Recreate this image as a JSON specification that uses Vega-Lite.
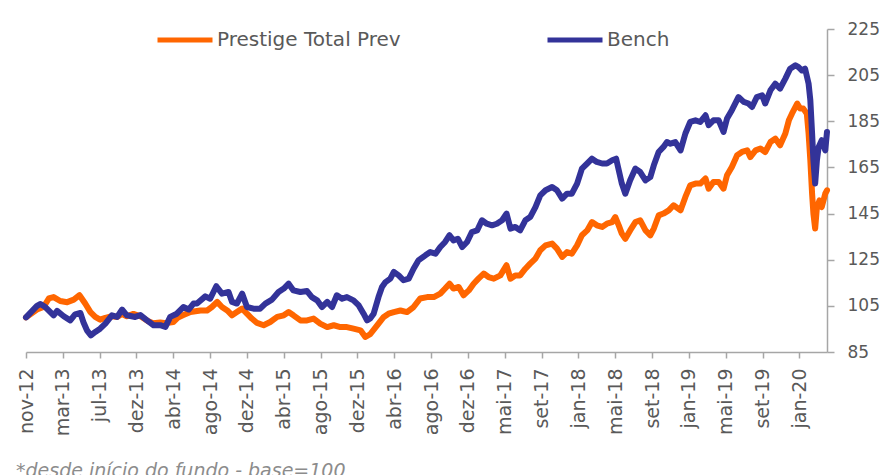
{
  "$schema": "https://vega.github.io/schema/vega-lite/v6.json",
  "width": 801,
  "height": 323,
  "autosize": {"type": "none"},
  "padding": {"left": 26, "top": 29, "right": 62, "bottom": 123},
  "background": "white",
  "config": {"view": {"stroke": null}, "font": "DejaVu Sans"},
  "title": {
    "text": "*desde início do fundo - base=100",
    "orient": "bottom",
    "anchor": "start",
    "frame": "group",
    "fontSize": 19,
    "fontStyle": "italic",
    "fontWeight": "normal",
    "color": "#8c8c8c",
    "font": "DejaVu Sans",
    "dx": -10,
    "offset": 26,
    "baseline": "top"
  },
  "data": {"values": [
    {"dia":0,"serie":"Prestige Total Prev","valor":100},{"dia":25,"serie":"Prestige Total Prev","valor":103.4},{"dia":40,"serie":"Prestige Total Prev","valor":104.5},{"dia":52,"serie":"Prestige Total Prev","valor":108.2},{"dia":63,"serie":"Prestige Total Prev","valor":108.8},{"dia":78,"serie":"Prestige Total Prev","valor":107.1},{"dia":94,"serie":"Prestige Total Prev","valor":106.6},{"dia":109,"serie":"Prestige Total Prev","valor":107.7},{"dia":122,"serie":"Prestige Total Prev","valor":109.6},{"dia":135,"serie":"Prestige Total Prev","valor":106},{"dia":147,"serie":"Prestige Total Prev","valor":102.3},{"dia":158,"serie":"Prestige Total Prev","valor":100.2},{"dia":169,"serie":"Prestige Total Prev","valor":99},{"dia":181,"serie":"Prestige Total Prev","valor":99.8},{"dia":196,"serie":"Prestige Total Prev","valor":100.5},{"dia":208,"serie":"Prestige Total Prev","valor":100.2},{"dia":219,"serie":"Prestige Total Prev","valor":101.5},{"dia":230,"serie":"Prestige Total Prev","valor":100.5},{"dia":245,"serie":"Prestige Total Prev","valor":101.5},{"dia":261,"serie":"Prestige Total Prev","valor":100.5},{"dia":277,"serie":"Prestige Total Prev","valor":98.5},{"dia":290,"serie":"Prestige Total Prev","valor":97.5},{"dia":306,"serie":"Prestige Total Prev","valor":97.8},{"dia":320,"serie":"Prestige Total Prev","valor":97.5},{"dia":336,"serie":"Prestige Total Prev","valor":98},{"dia":347,"serie":"Prestige Total Prev","valor":100},{"dia":359,"serie":"Prestige Total Prev","valor":101},{"dia":375,"serie":"Prestige Total Prev","valor":102.3},{"dia":398,"serie":"Prestige Total Prev","valor":103},{"dia":413,"serie":"Prestige Total Prev","valor":103},{"dia":424,"serie":"Prestige Total Prev","valor":104.5},{"dia":436,"serie":"Prestige Total Prev","valor":106.7},{"dia":447,"serie":"Prestige Total Prev","valor":104.5},{"dia":459,"serie":"Prestige Total Prev","valor":103},{"dia":470,"serie":"Prestige Total Prev","valor":100.9},{"dia":481,"serie":"Prestige Total Prev","valor":102.3},{"dia":493,"serie":"Prestige Total Prev","valor":103.8},{"dia":504,"serie":"Prestige Total Prev","valor":101.6},{"dia":515,"serie":"Prestige Total Prev","valor":99.5},{"dia":527,"serie":"Prestige Total Prev","valor":97.6},{"dia":542,"serie":"Prestige Total Prev","valor":96.6},{"dia":557,"serie":"Prestige Total Prev","valor":98},{"dia":573,"serie":"Prestige Total Prev","valor":100.2},{"dia":588,"serie":"Prestige Total Prev","valor":100.9},{"dia":599,"serie":"Prestige Total Prev","valor":102.3},{"dia":610,"serie":"Prestige Total Prev","valor":100.9},{"dia":626,"serie":"Prestige Total Prev","valor":98.7},{"dia":641,"serie":"Prestige Total Prev","valor":98.7},{"dia":656,"serie":"Prestige Total Prev","valor":99.5},{"dia":671,"serie":"Prestige Total Prev","valor":97.3},{"dia":687,"serie":"Prestige Total Prev","valor":95.8},{"dia":702,"serie":"Prestige Total Prev","valor":96.6},{"dia":717,"serie":"Prestige Total Prev","valor":95.8},{"dia":732,"serie":"Prestige Total Prev","valor":95.8},{"dia":747,"serie":"Prestige Total Prev","valor":95.1},{"dia":763,"serie":"Prestige Total Prev","valor":94.4},{"dia":774,"serie":"Prestige Total Prev","valor":91.5},{"dia":785,"serie":"Prestige Total Prev","valor":92.7},{"dia":804,"serie":"Prestige Total Prev","valor":97.3},{"dia":816,"serie":"Prestige Total Prev","valor":100.2},{"dia":827,"serie":"Prestige Total Prev","valor":101.6},{"dia":839,"serie":"Prestige Total Prev","valor":102.3},{"dia":854,"serie":"Prestige Total Prev","valor":103},{"dia":869,"serie":"Prestige Total Prev","valor":102.3},{"dia":884,"serie":"Prestige Total Prev","valor":104.5},{"dia":899,"serie":"Prestige Total Prev","valor":108.2},{"dia":915,"serie":"Prestige Total Prev","valor":108.8},{"dia":930,"serie":"Prestige Total Prev","valor":108.8},{"dia":945,"serie":"Prestige Total Prev","valor":110.3},{"dia":956,"serie":"Prestige Total Prev","valor":112.5},{"dia":966,"serie":"Prestige Total Prev","valor":114.6},{"dia":975,"serie":"Prestige Total Prev","valor":112.5},{"dia":987,"serie":"Prestige Total Prev","valor":113.2},{"dia":998,"serie":"Prestige Total Prev","valor":109.6},{"dia":1010,"serie":"Prestige Total Prev","valor":111.7},{"dia":1021,"serie":"Prestige Total Prev","valor":114.6},{"dia":1032,"serie":"Prestige Total Prev","valor":116.8},{"dia":1044,"serie":"Prestige Total Prev","valor":119},{"dia":1055,"serie":"Prestige Total Prev","valor":117.5},{"dia":1067,"serie":"Prestige Total Prev","valor":116.8},{"dia":1082,"serie":"Prestige Total Prev","valor":118.2},{"dia":1096,"serie":"Prestige Total Prev","valor":122.6},{"dia":1105,"serie":"Prestige Total Prev","valor":116.8},{"dia":1116,"serie":"Prestige Total Prev","valor":118.2},{"dia":1127,"serie":"Prestige Total Prev","valor":118.2},{"dia":1139,"serie":"Prestige Total Prev","valor":121.1},{"dia":1150,"serie":"Prestige Total Prev","valor":123.3},{"dia":1162,"serie":"Prestige Total Prev","valor":125.5},{"dia":1173,"serie":"Prestige Total Prev","valor":129.1},{"dia":1185,"serie":"Prestige Total Prev","valor":131.2},{"dia":1200,"serie":"Prestige Total Prev","valor":132},{"dia":1211,"serie":"Prestige Total Prev","valor":129.8},{"dia":1223,"serie":"Prestige Total Prev","valor":126.2},{"dia":1234,"serie":"Prestige Total Prev","valor":128.3},{"dia":1245,"serie":"Prestige Total Prev","valor":127.6},{"dia":1257,"serie":"Prestige Total Prev","valor":131.2},{"dia":1268,"serie":"Prestige Total Prev","valor":135.6},{"dia":1280,"serie":"Prestige Total Prev","valor":137.7},{"dia":1291,"serie":"Prestige Total Prev","valor":141.3},{"dia":1302,"serie":"Prestige Total Prev","valor":139.9},{"dia":1314,"serie":"Prestige Total Prev","valor":139.2},{"dia":1325,"serie":"Prestige Total Prev","valor":140.6},{"dia":1337,"serie":"Prestige Total Prev","valor":141.3},{"dia":1344,"serie":"Prestige Total Prev","valor":143.5},{"dia":1352,"serie":"Prestige Total Prev","valor":139.9},{"dia":1359,"serie":"Prestige Total Prev","valor":136.3},{"dia":1367,"serie":"Prestige Total Prev","valor":134.1},{"dia":1378,"serie":"Prestige Total Prev","valor":137.7},{"dia":1390,"serie":"Prestige Total Prev","valor":141.3},{"dia":1401,"serie":"Prestige Total Prev","valor":142.1},{"dia":1413,"serie":"Prestige Total Prev","valor":137.7},{"dia":1424,"serie":"Prestige Total Prev","valor":135.6},{"dia":1432,"serie":"Prestige Total Prev","valor":138.5},{"dia":1443,"serie":"Prestige Total Prev","valor":144.2},{"dia":1454,"serie":"Prestige Total Prev","valor":145},{"dia":1466,"serie":"Prestige Total Prev","valor":146.4},{"dia":1477,"serie":"Prestige Total Prev","valor":148.6},{"dia":1493,"serie":"Prestige Total Prev","valor":146.4},{"dia":1504,"serie":"Prestige Total Prev","valor":152.2},{"dia":1515,"serie":"Prestige Total Prev","valor":157.2},{"dia":1527,"serie":"Prestige Total Prev","valor":158},{"dia":1538,"serie":"Prestige Total Prev","valor":158},{"dia":1550,"serie":"Prestige Total Prev","valor":160.2},{"dia":1557,"serie":"Prestige Total Prev","valor":155.8},{"dia":1568,"serie":"Prestige Total Prev","valor":158.7},{"dia":1580,"serie":"Prestige Total Prev","valor":158.7},{"dia":1591,"serie":"Prestige Total Prev","valor":155.8},{"dia":1599,"serie":"Prestige Total Prev","valor":161.6},{"dia":1610,"serie":"Prestige Total Prev","valor":165.2},{"dia":1622,"serie":"Prestige Total Prev","valor":170.3},{"dia":1633,"serie":"Prestige Total Prev","valor":171.7},{"dia":1645,"serie":"Prestige Total Prev","valor":172.4},{"dia":1652,"serie":"Prestige Total Prev","valor":169.5},{"dia":1664,"serie":"Prestige Total Prev","valor":172.4},{"dia":1675,"serie":"Prestige Total Prev","valor":173.2},{"dia":1686,"serie":"Prestige Total Prev","valor":171.7},{"dia":1698,"serie":"Prestige Total Prev","valor":176},{"dia":1709,"serie":"Prestige Total Prev","valor":177.5},{"dia":1720,"serie":"Prestige Total Prev","valor":174.6},{"dia":1732,"serie":"Prestige Total Prev","valor":179.7},{"dia":1740,"serie":"Prestige Total Prev","valor":185.4},{"dia":1747,"serie":"Prestige Total Prev","valor":188.3},{"dia":1759,"serie":"Prestige Total Prev","valor":192.7},{"dia":1766,"serie":"Prestige Total Prev","valor":190.5},{"dia":1773,"serie":"Prestige Total Prev","valor":190.5},{"dia":1781,"serie":"Prestige Total Prev","valor":188.3},{"dia":1785,"serie":"Prestige Total Prev","valor":179.7},{"dia":1789,"serie":"Prestige Total Prev","valor":168.1},{"dia":1793,"serie":"Prestige Total Prev","valor":153.6},{"dia":1796,"serie":"Prestige Total Prev","valor":145},{"dia":1800,"serie":"Prestige Total Prev","valor":138.5},{"dia":1804,"serie":"Prestige Total Prev","valor":147.8},{"dia":1810,"serie":"Prestige Total Prev","valor":150.7},{"dia":1815,"serie":"Prestige Total Prev","valor":147.8},{"dia":1823,"serie":"Prestige Total Prev","valor":153.6},{"dia":1827,"serie":"Prestige Total Prev","valor":155.1},
    {"dia":0,"serie":"Bench","valor":100},{"dia":25,"serie":"Bench","valor":105},{"dia":33,"serie":"Bench","valor":105.8},{"dia":44,"serie":"Bench","valor":104.5},{"dia":63,"serie":"Bench","valor":100.9},{"dia":71,"serie":"Bench","valor":102.8},{"dia":86,"serie":"Bench","valor":100.5},{"dia":101,"serie":"Bench","valor":98.7},{"dia":112,"serie":"Bench","valor":101.3},{"dia":124,"serie":"Bench","valor":101.9},{"dia":131,"serie":"Bench","valor":97.9},{"dia":139,"serie":"Bench","valor":94.4},{"dia":148,"serie":"Bench","valor":92.2},{"dia":158,"serie":"Bench","valor":93.7},{"dia":169,"serie":"Bench","valor":95.1},{"dia":181,"serie":"Bench","valor":97.3},{"dia":196,"serie":"Bench","valor":100.9},{"dia":208,"serie":"Bench","valor":100.2},{"dia":219,"serie":"Bench","valor":103.4},{"dia":230,"serie":"Bench","valor":100.9},{"dia":249,"serie":"Bench","valor":100.2},{"dia":261,"serie":"Bench","valor":101},{"dia":276,"serie":"Bench","valor":98.7},{"dia":291,"serie":"Bench","valor":96.6},{"dia":306,"serie":"Bench","valor":96.6},{"dia":318,"serie":"Bench","valor":95.9},{"dia":329,"serie":"Bench","valor":100.2},{"dia":344,"serie":"Bench","valor":101.6},{"dia":359,"serie":"Bench","valor":104.5},{"dia":371,"serie":"Bench","valor":103.4},{"dia":382,"serie":"Bench","valor":106},{"dia":390,"serie":"Bench","valor":106},{"dia":409,"serie":"Bench","valor":109.1},{"dia":420,"serie":"Bench","valor":108.1},{"dia":434,"serie":"Bench","valor":113.5},{"dia":447,"serie":"Bench","valor":110.3},{"dia":462,"serie":"Bench","valor":111},{"dia":470,"serie":"Bench","valor":106.7},{"dia":481,"serie":"Bench","valor":106},{"dia":493,"serie":"Bench","valor":110.3},{"dia":504,"serie":"Bench","valor":104.5},{"dia":519,"serie":"Bench","valor":103.8},{"dia":534,"serie":"Bench","valor":103.8},{"dia":546,"serie":"Bench","valor":106},{"dia":561,"serie":"Bench","valor":107.7},{"dia":576,"serie":"Bench","valor":111},{"dia":588,"serie":"Bench","valor":112.5},{"dia":599,"serie":"Bench","valor":114.6},{"dia":610,"serie":"Bench","valor":111.7},{"dia":626,"serie":"Bench","valor":111},{"dia":641,"serie":"Bench","valor":111.4},{"dia":652,"serie":"Bench","valor":108.8},{"dia":664,"serie":"Bench","valor":107.4},{"dia":675,"serie":"Bench","valor":104.5},{"dia":687,"serie":"Bench","valor":106.7},{"dia":698,"serie":"Bench","valor":104.5},{"dia":709,"serie":"Bench","valor":109.6},{"dia":721,"serie":"Bench","valor":108.1},{"dia":732,"serie":"Bench","valor":108.8},{"dia":747,"serie":"Bench","valor":107.4},{"dia":759,"serie":"Bench","valor":105.2},{"dia":770,"serie":"Bench","valor":101.6},{"dia":778,"serie":"Bench","valor":98.7},{"dia":785,"serie":"Bench","valor":99.5},{"dia":793,"serie":"Bench","valor":101.6},{"dia":804,"serie":"Bench","valor":108.8},{"dia":812,"serie":"Bench","valor":113.2},{"dia":820,"serie":"Bench","valor":115.3},{"dia":831,"serie":"Bench","valor":116.8},{"dia":839,"serie":"Bench","valor":119.7},{"dia":850,"serie":"Bench","valor":118.2},{"dia":861,"serie":"Bench","valor":116.1},{"dia":873,"serie":"Bench","valor":116.8},{"dia":884,"serie":"Bench","valor":121.1},{"dia":895,"serie":"Bench","valor":124.7},{"dia":911,"serie":"Bench","valor":126.9},{"dia":922,"serie":"Bench","valor":128.3},{"dia":934,"serie":"Bench","valor":127.6},{"dia":945,"serie":"Bench","valor":130.5},{"dia":956,"serie":"Bench","valor":132.7},{"dia":966,"serie":"Bench","valor":135.6},{"dia":975,"serie":"Bench","valor":133.4},{"dia":985,"serie":"Bench","valor":134.1},{"dia":995,"serie":"Bench","valor":130.5},{"dia":1006,"serie":"Bench","valor":132.7},{"dia":1017,"serie":"Bench","valor":137},{"dia":1029,"serie":"Bench","valor":137.7},{"dia":1040,"serie":"Bench","valor":142.1},{"dia":1051,"serie":"Bench","valor":140.6},{"dia":1063,"serie":"Bench","valor":139.9},{"dia":1074,"serie":"Bench","valor":140.6},{"dia":1086,"serie":"Bench","valor":142.1},{"dia":1096,"serie":"Bench","valor":145},{"dia":1105,"serie":"Bench","valor":138.5},{"dia":1116,"serie":"Bench","valor":139.2},{"dia":1127,"serie":"Bench","valor":137.7},{"dia":1139,"serie":"Bench","valor":142.1},{"dia":1150,"serie":"Bench","valor":143.5},{"dia":1162,"serie":"Bench","valor":147.8},{"dia":1173,"serie":"Bench","valor":152.9},{"dia":1185,"serie":"Bench","valor":155.1},{"dia":1200,"serie":"Bench","valor":156.5},{"dia":1211,"serie":"Bench","valor":155.1},{"dia":1223,"serie":"Bench","valor":151.5},{"dia":1234,"serie":"Bench","valor":153.6},{"dia":1245,"serie":"Bench","valor":153.6},{"dia":1257,"serie":"Bench","valor":158},{"dia":1268,"serie":"Bench","valor":164.5},{"dia":1280,"serie":"Bench","valor":166.7},{"dia":1291,"serie":"Bench","valor":168.8},{"dia":1302,"serie":"Bench","valor":167.4},{"dia":1314,"serie":"Bench","valor":166.7},{"dia":1325,"serie":"Bench","valor":166.7},{"dia":1337,"serie":"Bench","valor":168.1},{"dia":1346,"serie":"Bench","valor":168.8},{"dia":1352,"serie":"Bench","valor":163.8},{"dia":1359,"serie":"Bench","valor":158},{"dia":1367,"serie":"Bench","valor":153.6},{"dia":1378,"serie":"Bench","valor":159.4},{"dia":1390,"serie":"Bench","valor":164.5},{"dia":1401,"serie":"Bench","valor":163},{"dia":1413,"serie":"Bench","valor":159.4},{"dia":1424,"serie":"Bench","valor":160.8},{"dia":1432,"serie":"Bench","valor":165.9},{"dia":1443,"serie":"Bench","valor":171.7},{"dia":1454,"serie":"Bench","valor":173.9},{"dia":1462,"serie":"Bench","valor":176},{"dia":1470,"serie":"Bench","valor":175.3},{"dia":1481,"serie":"Bench","valor":176},{"dia":1493,"serie":"Bench","valor":172.4},{"dia":1504,"serie":"Bench","valor":179.7},{"dia":1515,"serie":"Bench","valor":184.7},{"dia":1527,"serie":"Bench","valor":185.4},{"dia":1538,"serie":"Bench","valor":184.7},{"dia":1550,"serie":"Bench","valor":187.6},{"dia":1557,"serie":"Bench","valor":183.3},{"dia":1568,"serie":"Bench","valor":185.4},{"dia":1580,"serie":"Bench","valor":185.4},{"dia":1591,"serie":"Bench","valor":180.4},{"dia":1599,"serie":"Bench","valor":186.2},{"dia":1610,"serie":"Bench","valor":189.8},{"dia":1625,"serie":"Bench","valor":195.5},{"dia":1637,"serie":"Bench","valor":193.4},{"dia":1648,"serie":"Bench","valor":192.7},{"dia":1656,"serie":"Bench","valor":191.2},{"dia":1667,"serie":"Bench","valor":195.5},{"dia":1679,"serie":"Bench","valor":196.3},{"dia":1686,"serie":"Bench","valor":192.7},{"dia":1698,"serie":"Bench","valor":198.4},{"dia":1709,"serie":"Bench","valor":201.3},{"dia":1720,"serie":"Bench","valor":199.2},{"dia":1732,"serie":"Bench","valor":203.5},{"dia":1743,"serie":"Bench","valor":207.8},{"dia":1755,"serie":"Bench","valor":209.3},{"dia":1762,"serie":"Bench","valor":208.5},{"dia":1770,"serie":"Bench","valor":207},{"dia":1777,"serie":"Bench","valor":207.8},{"dia":1785,"serie":"Bench","valor":201.3},{"dia":1789,"serie":"Bench","valor":194.1},{"dia":1793,"serie":"Bench","valor":179.7},{"dia":1796,"serie":"Bench","valor":168.1},{"dia":1800,"serie":"Bench","valor":158},{"dia":1804,"serie":"Bench","valor":168.1},{"dia":1808,"serie":"Bench","valor":173.9},{"dia":1815,"serie":"Bench","valor":176.8},{"dia":1823,"serie":"Bench","valor":172.4},{"dia":1827,"serie":"Bench","valor":180.4}
  ]},
  "encoding": {
    "x": {
      "field": "dia", "type": "quantitative",
      "scale": {"domain": [0, 1827], "nice": false, "zero": false},
      "axis": {
        "title": null, "grid": false,
        "values": [0,84,168,252,336,420,504,588,672,756,840,924,1008,1092,1176,1260,1344,1428,1512,1596,1680,1764],
        "labelExpr": "['nov-12','mar-13','jul-13','dez-13','abr-14','ago-14','dez-14','abr-15','ago-15','dez-15','abr-16','ago-16','dez-16','mai-17','set-17','jan-18','mai-18','set-18','jan-19','mai-19','set-19','jan-20'][round(datum.value/84)]",
        "labelAngle": -90, "labelFontSize": 19, "labelColor": "#595959", "labelFont": "DejaVu Sans",
        "labelPadding": 10, "labelOverlap": false, "labelBound": false, "labelFlush": false,
        "tickSize": 6, "tickColor": "#a6a6a6", "domainColor": "#a6a6a6", "domainWidth": 1.5, "tickWidth": 1.5
      }
    },
    "y": {
      "field": "valor", "type": "quantitative",
      "scale": {"domain": [85, 225], "nice": false, "zero": false},
      "axis": {
        "orient": "right", "title": null, "grid": false,
        "values": [85,105,125,145,165,185,205,225],
        "labelFontSize": 17, "labelColor": "#595959", "labelFont": "DejaVu Sans",
        "labelPadding": 13, "tickSize": 7, "tickColor": "#a6a6a6", "domainColor": "#a6a6a6",
        "domainWidth": 1.5, "tickWidth": 1.5, "labelFlush": false, "labelOverlap": false
      }
    },
    "color": {
      "field": "serie", "type": "nominal",
      "scale": {"domain": ["Prestige Total Prev", "Bench"], "range": ["#ff6600", "#333399"]},
      "legend": {
        "title": null, "orient": "none", "legendX": 129, "legendY": -19,
        "direction": "horizontal", "symbolType": "stroke", "symbolSize": 3025,
        "symbolStrokeWidth": 5, "labelFontSize": 20, "labelColor": "#595959",
        "labelFont": "DejaVu Sans", "labelOffset": 2, "columnPadding": 136, "padding": 0,
        "labelLimit": 400
      }
    }
  },
  "layer": [
    {"transform": [{"filter": "datum.serie === 'Prestige Total Prev'"}],
     "mark": {"type": "line", "strokeWidth": 6, "strokeJoin": "round", "strokeCap": "round"}},
    {"transform": [{"filter": "datum.serie === 'Bench'"}],
     "mark": {"type": "line", "strokeWidth": 6, "strokeJoin": "round", "strokeCap": "round"}}
  ]
}
